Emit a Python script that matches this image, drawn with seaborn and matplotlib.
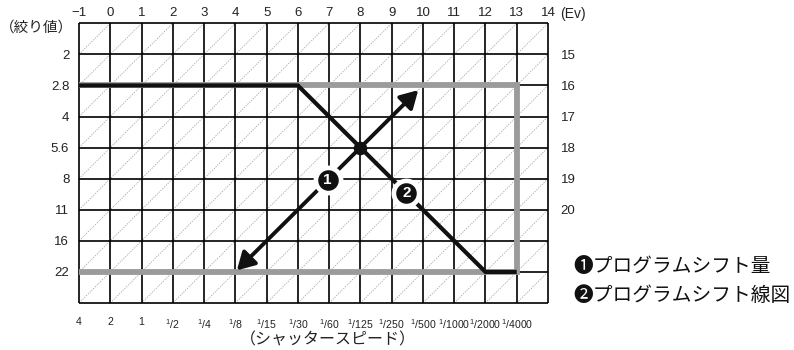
import matplotlib
matplotlib.use("Agg")
import matplotlib.pyplot as plt
import seaborn as sns
import pandas as pd

# ---- scales ----
ev_top = list(range(-1, 15))
shutter_labels = ["4", "2", "1", "1/2", "1/4", "1/8", "1/15", "1/30", "1/60",
                  "1/125", "1/250", "1/500", "1/1000", "1/2000", "1/4000"]
aperture_labels = ["2", "2.8", "4", "5.6", "8", "11", "16", "22"]
ev_right = [15, 16, 17, 18, 19, 20]

# ---- program lines (Ev on the top scale, f-number) ----
limit_ev = [-1, 13, 13, -1]
limit_f = ["2.8", "2.8", "22", "22"]
shift_ev = [-1, 6, 12, 13]
shift_f = ["2.8", "2.8", "22", "22"]

# ---- program shift (Ev, Av) ----
arrow_from = (4.05, 8.95)
arrow_to = (9.85, 3.15)
cross_ev, cross_f = 8, "5.6"
badge_pos = {"1": (6.95, 6.05), "2": (9.47, 6.47)}

legend_lines = ["\u2776プログラムシフト量", "\u2777プログラムシフト線図"]

# Av value of each f-number row (f/2 -> Av 2, f/2.8 -> Av 3, ...)
av_of = {lab: i + 2 for i, lab in enumerate(aperture_labels)}

sns.set_style("white")
plt.rcParams["font.family"] = ["Liberation Sans Narrow", "Liberation Sans",
                               "Noto Sans CJK JP", "DejaVu Sans"]
plt.rcParams["mathtext.fontset"] = "custom"
plt.rcParams["mathtext.rm"] = "Liberation Sans Narrow"

fig = plt.figure(figsize=(7.94, 3.5), dpi=100)
W, H = 794, 350
x0, x1, y0, y1 = 79, 548, 23.3, 303
ax = fig.add_axes([x0 / W, 1 - y1 / H, (x1 - x0) / W, (y1 - y0) / H])

ax.set_xlim(-1, 14)
ax.set_ylim(10, 1)
for s in ax.spines.values():
    s.set_visible(False)

# dotted diagonals inside every cell
for c in range(-2, 26):
    ax.axline((c, 0), slope=-1, color="#a8a8a8", lw=0.6,
              ls=(0, (1.6, 1.4)), zorder=1)

# cell grid
ax.vlines(range(-1, 15), 1, 10, color="black", lw=1.2, zorder=2, clip_on=False)
ax.hlines(range(1, 11), -1, 14, color="black", lw=1.2, zorder=2, clip_on=False)

limit_df = pd.DataFrame({"ev": limit_ev, "av": [av_of[f] for f in limit_f]})
shift_df = pd.DataFrame({"ev": shift_ev, "av": [av_of[f] for f in shift_f]})

sns.lineplot(data=limit_df, x="ev", y="av", sort=False, estimator=None,
             color="#9b9b9b", lw=4.2, ax=ax, zorder=3,
             solid_joinstyle="miter", solid_capstyle="butt", clip_on=False)
sns.lineplot(data=shift_df, x="ev", y="av", sort=False, estimator=None,
             color="#111111", lw=3.0, ax=ax, zorder=4,
             solid_joinstyle="miter", solid_capstyle="butt", clip_on=False)

# program shift arrow
ax.annotate("", xy=arrow_to, xytext=arrow_from,
            arrowprops=dict(arrowstyle="<|-|>,head_length=1.05,head_width=0.6",
                            mutation_scale=10, lw=2.8, color="#111111",
                            shrinkA=0, shrinkB=0), zorder=5)

ax.scatter([cross_ev], [av_of[cross_f]], s=95, color="#111111", zorder=6,
           linewidths=0)

# numbered badges
for num, (bx, by) in badge_pos.items():
    ax.scatter([bx], [by], s=21.5 ** 2, color="white", zorder=7, linewidths=0)
    ax.scatter([bx], [by], s=14.8 ** 2, color="#111111", zorder=8, linewidths=0)
    ax.text(bx, by, num, color="white", fontsize=11, fontweight="bold",
            family=["Liberation Sans", "DejaVu Sans"],
            ha="center", va="center", zorder=9)

ax.set_ylabel("")
ax.set_xlabel("")

# bottom: shutter speed labels
def frac(lab):
    if "/" in lab:
        num, den = lab.split("/")
        return r"${}^{\mathregular{%s}}$/%s" % (num, den)
    return lab

ax.set_xticks(range(-1, 14))
ax.set_xticklabels([frac(l) for l in shutter_labels], fontsize=7.6)
ax.set_yticks(list(av_of.values()))
ax.set_yticklabels(aperture_labels, fontsize=9.5)
ax.tick_params(axis="x", length=0, pad=10, colors="#222222")
ax.tick_params(axis="y", length=0, pad=7, colors="#222222")

# top: Ev scale
top = ax.secondary_xaxis("top")
top.set_xticks(ev_top)
top.set_xticklabels([str(v).replace("-", "\u2212") for v in ev_top], fontsize=9.5)
top.tick_params(length=0, pad=3, colors="#222222")
for s in top.spines.values():
    s.set_visible(False)

# right: Ev scale along the diagonals
right = ax.secondary_yaxis("right")
right.set_yticks(range(2, 2 + len(ev_right)))
right.set_yticklabels([str(v) for v in ev_right], fontsize=9.5)
right.tick_params(length=0, pad=9, colors="#222222")
for s in right.spines.values():
    s.set_visible(False)

# axis captions
fig.text(560 / W, 1 - 14 / H, "(Ev)", fontsize=10, va="center", ha="left",
         color="#222222", family=["Liberation Sans", "DejaVu Sans"])
fig.text(73 / W, 1 - 28 / H, "（絞り値）", fontsize=10.5, va="center", ha="right",
         color="#222222", family=["Noto Sans CJK JP", "DejaVu Sans"])
fig.text(328 / W, 1 - 340 / H, "（シャッタースピード）", fontsize=11.5, va="center",
         ha="center", color="#222222",
         family=["Noto Sans CJK JP", "DejaVu Sans"])

# legend notes
for i, line in enumerate(legend_lines):
    fig.text(573 / W, 1 - (266 + 29.5 * i) / H, line, fontsize=14.2,
             va="center", ha="left", color="#111111",
             family=["Noto Sans CJK JP", "DejaVu Sans"])

fig.savefig("out.png", dpi=100)
